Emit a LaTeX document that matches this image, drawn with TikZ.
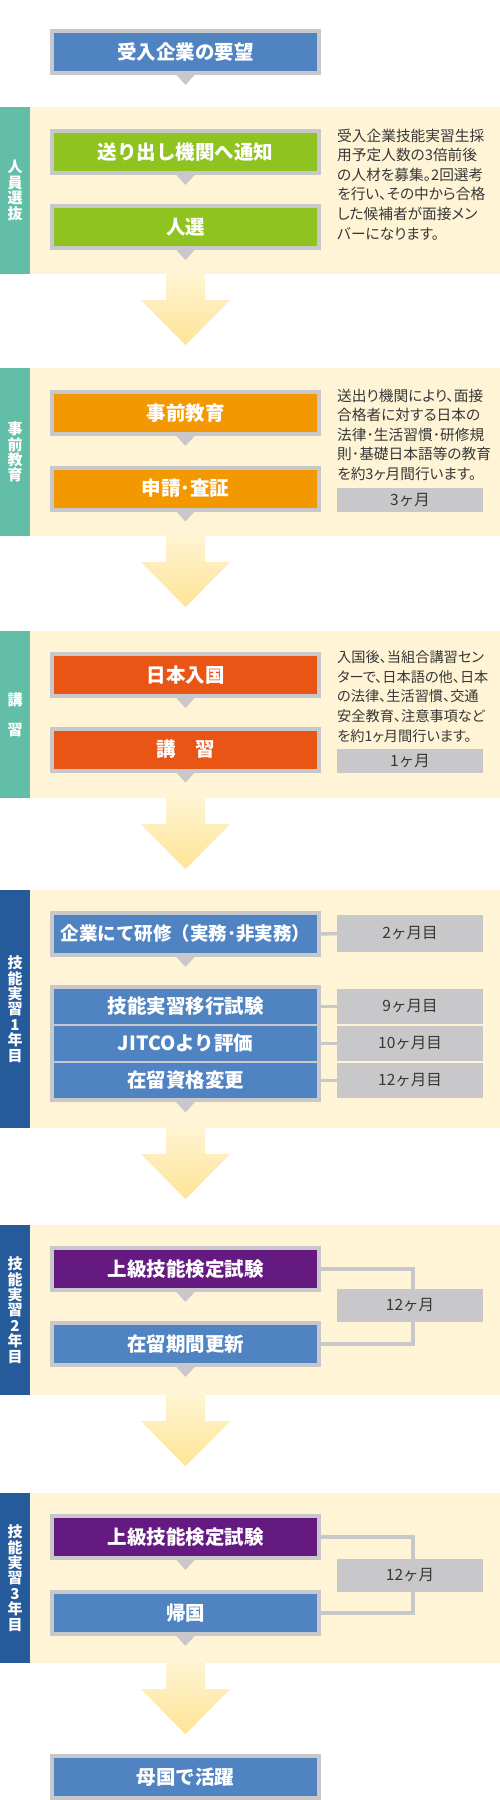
\documentclass[tikz,border=0pt]{standalone}
\definecolor{boxblue}{RGB}{79,131,194}
\definecolor{leafgreen}{RGB}{143,195,31}
\definecolor{prepamber}{RGB}{243,152,0}
\definecolor{entryred}{RGB}{233,85,20}
\definecolor{examviolet}{RGB}{100,26,128}
\definecolor{framegray}{RGB}{200,200,202}
\definecolor{bandcream}{RGB}{255,245,214}
\definecolor{sideteal}{RGB}{98,190,166}
\definecolor{sidenavy}{RGB}{37,90,155}
\definecolor{arrowtop}{RGB}{255,244,210}
\definecolor{arrowtip}{RGB}{255,228,150}
\definecolor{notegray}{RGB}{55,55,55}
\usepackage{fontspec}
\setmainfont{Noto Sans CJK JP}
\newfontfamily\notefont[RawFeature=+palt]{Noto Sans CJK JP}
\usepackage{tikz}
\usetikzlibrary{positioning, fit, backgrounds, calc}

\begin{document}
\begin{tikzpicture}[
        x=1pt, y=-1pt,
        every node/.style={inner sep=0pt},
        flowbox/.style={draw=framegray, line width=4pt, minimum width=267pt, minimum height=42pt, text=white, font=\bfseries\fontsize{19.5}{22}\selectfont},
        rowbox/.style={fill=boxblue, minimum width=263pt, minimum height=35pt, text=white, font=\bfseries\fontsize{19.5}{22}\selectfont},
        monthbox/.style={fill=framegray, minimum width=146pt, text=notegray, font=\fontsize{15.5}{18}\selectfont},
        band/.style={fill=bandcream, minimum width=470pt},
        sidebar/.style={minimum width=30pt, text=white, align=center, font=\bfseries\fontsize{15}{15.4}\selectfont},
        note/.style={anchor=north west, align=left, text=notegray, font=\notefont\fontsize{14.7}{19.6}\selectfont},
        link/.style={draw=framegray, line width=3.5pt}
    ]
    \useasboundingbox (0,0) rectangle (500,1800);

    % stage bands
    \begin{scope}[on background layer]
        \node[band, minimum height=167pt] (b1) at (265,190.5) {};
        \node[band, minimum height=168pt] (b2) at (265,452) {};
        \node[band, minimum height=167pt] (b3) at (265,714.5) {};
        \node[band, minimum height=238pt] (b4) at (265,1009) {};
        \node[band, minimum height=170pt] (b5) at (265,1310) {};
        \node[band, minimum height=170pt] (b6) at (265,1578) {};
    \end{scope}

    \node[sidebar, fill=sideteal, minimum height=167pt] (l1) at (15,190.5) {人\\員\\選\\抜};
    \node[sidebar, fill=sideteal, minimum height=168pt] (l2) at (15,452) {事\\前\\教\\育};
    \node[sidebar, fill=sideteal, minimum height=167pt] (l3) at (15,714.5) {講\\[14.5pt]習};
    \node[sidebar, fill=sidenavy, minimum height=238pt] (l4) at (15,1009) {技\\能\\実\\習\\1\\年\\目};
    \node[sidebar, fill=sidenavy, minimum height=170pt] (l5) at (15,1310) {技\\能\\実\\習\\2\\年\\目};
    \node[sidebar, fill=sidenavy, minimum height=170pt] (l6) at (15,1578) {技\\能\\実\\習\\3\\年\\目};

    % flow boxes
    \node[flowbox, fill=boxblue] (top) at (185.5,52) {受入企業の要望};
    \node[flowbox, fill=leafgreen] (s1a) at (185.5,152) {送り出し機関へ通知};
    \node[flowbox, fill=leafgreen] (s1b) at (185.5,227) {人選};
    \node[flowbox, fill=prepamber] (s2a) at (185.5,413) {事前教育};
    \node[flowbox, fill=prepamber] (s2b) at (185.5,488.5) {申請･査証};
    \node[flowbox, fill=entryred] (s3a) at (185.5,675) {日本入国};
    \node[flowbox, fill=entryred] (s3b) at (185.5,749.5) {講　習};
    \node[flowbox, fill=boxblue, font=\bfseries\fontsize{18.5}{20}\selectfont] (s4a) at (185.5,934) {企業にて研修（実務･非実務）};
    \node[rowbox] (s4b) at (185.5,1006.5) {技能実習移行試験};
    \node[rowbox] (s4c) at (185.5,1043.5) {JITCOより評価};
    \node[rowbox] (s4d) at (185.5,1080.5) {在留資格変更};
    \begin{scope}[on background layer]
        \node[fit=(s4b)(s4d), inner sep=4pt, fill=framegray] (s4g) {};
    \end{scope}
    \node[flowbox, fill=examviolet] (s5a) at (185.5,1269) {上級技能検定試験};
    \node[flowbox, fill=boxblue] (s5b) at (185.5,1344) {在留期間更新};
    \node[flowbox, fill=examviolet] (s6a) at (185.5,1537) {上級技能検定試験};
    \node[flowbox, fill=boxblue] (s6b) at (185.5,1613) {帰国};
    \node[flowbox, fill=boxblue] (goal) at (185.5,1777) {母国で活躍};

    \foreach \n in {top,s1a,s1b,s2a,s2b,s3a,s3b,s4a,s4g,s5a,s5b,s6a,s6b}
        \fill[framegray] ($(\n.south)+(-10,-1)$) -- ($(\n.south)+(10,-1)$) -- ($(\n.south)+(0,10)$) -- cycle;

    % big arrows between stages
    \foreach \b in {b1,b2,b3,b4,b5,b6} {
        \coordinate (p) at (\b.south -| top.south);
        \shade[top color=arrowtop, bottom color=arrowtip]
            ($(p)+(-19.5,0)$) -- ($(p)+(-19.5,26)$) -- ($(p)+(-44.5,26)$) -- ($(p)+(0,71)$)
            -- ($(p)+(44.5,26)$) -- ($(p)+(19.5,26)$) -- ($(p)+(19.5,0)$) -- cycle;
    }

    % notes
    \node[note] (n1) at (337,128.5) {受入企業技能実習生採\\用予定人数の3倍前後\\の人材を募集。2回選考\\を行い、その中から合格\\した候補者が面接メン\\バーになります。};
    \node[note] (n2) at (337,388.5) {送出り機関により、面接\\合格者に対する日本の\\法律･生活習慣･研修規\\則･基礎日本語等の教育\\を約3ヶ月間行います。};
    \node[note, font=\notefont\fontsize{14.2}{19.6}\selectfont] (n3) at (337,650.5) {入国後、当組合講習セン\\ターで、日本語の他、日本\\の法律、生活習慣、交通\\安全教育、注意事項など\\を約1ヶ月間行います。};

    % months
    \node[monthbox, minimum height=24pt] (m3) at (410,500) {3ヶ月};
    \node[monthbox, minimum height=24pt] (m1) at (410,761) {1ヶ月};
    \node[monthbox, minimum height=37pt] (m2) at (410,933.5) {2ヶ月目};
    \node[monthbox, minimum height=35pt] (m9) at (410,1006.5) {9ヶ月目};
    \node[monthbox, minimum height=35pt] (m10) at (410,1043.5) {10ヶ月目};
    \node[monthbox, minimum height=35pt] (m12) at (410,1080.5) {12ヶ月目};
    \node[monthbox, minimum height=33pt] (m5) at (410,1305.5) {12ヶ月};
    \node[monthbox, minimum height=33pt] (m6) at (410,1575.5) {12ヶ月};

    \draw[link] (s4a.east) -- (m2.west);
    \draw[link] (s4b.east) -- (m9.west);
    \draw[link] (s4c.east) -- (m10.west);
    \draw[link] (s4d.east) -- (m12.west);
    \draw[link] (s5a.east) -| ($(m5.north)+(3,0)$);
    \draw[link] (s5b.east) -| ($(m5.south)+(3,0)$);
    \draw[link] (s6a.east) -| ($(m6.north)+(3,0)$);
    \draw[link] (s6b.east) -| ($(m6.south)+(3,0)$);
\end{tikzpicture}
\end{document}
